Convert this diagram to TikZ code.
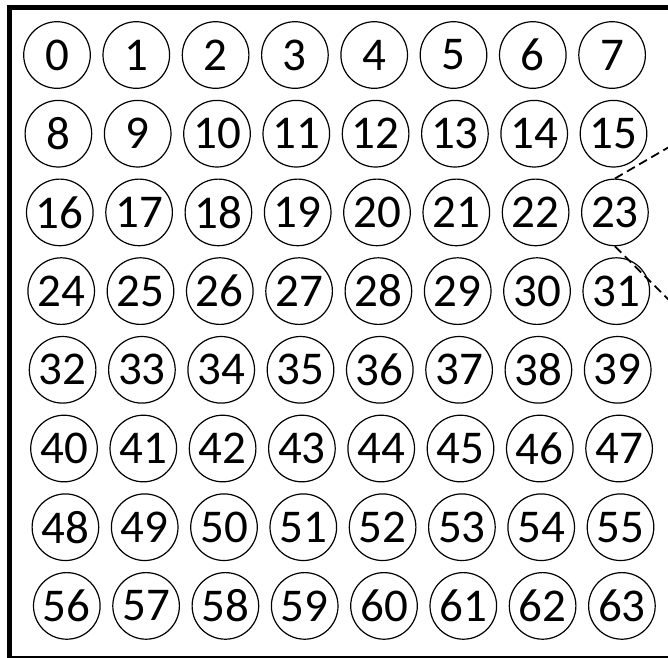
\documentclass[tikz,border=0pt]{standalone}
\usepackage{fontspec}
\setmainfont{Carlito}
\begin{document}
\begin{tikzpicture}[x=1pt,y=-1pt,
  cell/.style={draw,circle,line width=1.2pt,minimum size=66.6pt,inner sep=0pt,
    font=\fontsize{47}{54}\selectfont},
  zoomline/.style={line width=1.8pt,dash pattern=on 9pt off 5pt}]
\useasboundingbox (0,0) rectangle (668,657);
\clip (0,0) rectangle (668,657);
\draw[line width=5pt] (9.5,7.5) rectangle (720,658.5);
\foreach \r in {0,...,7}{
  \foreach \c in {0,...,7}{
    \pgfmathtruncatemacro{\n}{8*\r+\c}
    \node[cell] (n\n) at ({57+79.3*\c+1.4*\r},{55+78.7*\r}) {\n};
  }
}
\coordinate (zt) at (700,129);
\coordinate (zb) at (700,331);
\draw[zoomline] (n23.north) -- (zt);
\draw[zoomline] (n23.south) -- (zb);
\end{tikzpicture}
\end{document}
